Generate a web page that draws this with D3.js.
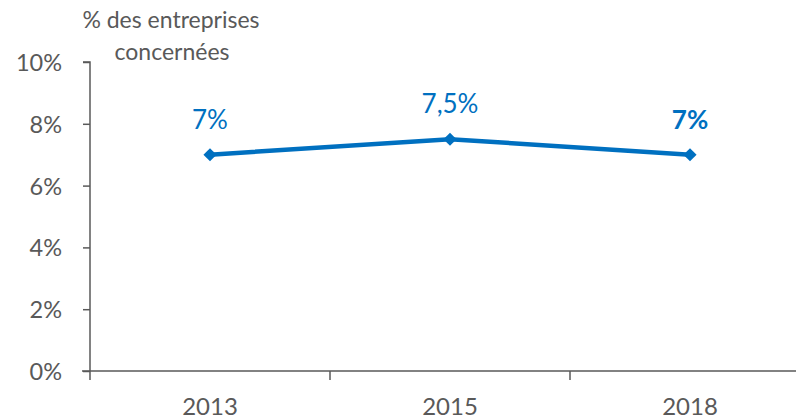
<!DOCTYPE html>
<html>
<head>
<meta charset="utf-8">
<script src="https://cdn.jsdelivr.net/npm/d3@7"></script>
<style>
  body { margin: 0; background: #fff; }
  text { font-family: Lato, "Open Sans", sans-serif; }
</style>
</head>
<body>
<svg width="796" height="420"></svg>
<script>
// data
var years = ["2013", "2015", "2018"];
var values = [7, 7.5, 7];
var valueLabels = ["7%", "7,5%", "7%"];
var boldLabel = [false, false, true];
var yTicks = [0, 2, 4, 6, 8, 10];

var svg = d3.select("svg"),
	grey = "#595959",
	blue = "#0070C0";

var x = d3.scaleBand().domain(years).range([90, 810]);
var y = d3.scaleLinear().domain([0, 10]).range([371, 62]);

// y axis
var yAxis = svg.append("g")
	.attr("transform", "translate(90,0)")
	.call(d3.axisLeft(y).tickValues(yTicks).tickSize(7).tickPadding(8)
		.tickFormat(function (d) { return d + "%"; }));
yAxis.select(".domain").attr("stroke", grey).attr("stroke-width", 1.5)
	.attr("d", "M-7," + y(10) + "H0V" + y(0));
yAxis.selectAll(".tick line").attr("stroke", grey).attr("stroke-width", 1.5);
yAxis.selectAll(".tick text").attr("fill", grey).style("font-size", "23.5px")
	.attr("x", -28).attr("dy", "0.36em");

// x axis
var xAxis = svg.append("g")
	.attr("transform", "translate(0," + y(0) + ")");
xAxis.append("line")
	.attr("x1", 82).attr("x2", 796)
	.attr("stroke", grey).attr("stroke-width", 1.5);
xAxis.selectAll("line.tk")
	.data(years.concat(["end"]))
	.enter().append("line")
	.attr("class", "tk")
	.attr("x1", function (d, i) { return 90 + i * x.bandwidth(); })
	.attr("x2", function (d, i) { return 90 + i * x.bandwidth(); })
	.attr("y1", 0).attr("y2", 9)
	.attr("stroke", grey).attr("stroke-width", 1.5);
xAxis.selectAll("text")
	.data(years)
	.enter().append("text")
	.attr("x", function (d) { return x(d) + x.bandwidth() / 2; })
	.attr("y", 44)
	.attr("text-anchor", "middle")
	.attr("fill", grey)
	.style("font-size", "24px")
	.text(function (d) { return d; });

// axis title
svg.append("text")
	.attr("x", 171).attr("y", 28)
	.attr("text-anchor", "middle")
	.attr("fill", grey)
	.style("font-size", "23px")
	.text("% des entreprises");
svg.append("text")
	.attr("x", 172).attr("y", 60)
	.attr("text-anchor", "middle")
	.attr("fill", grey)
	.style("font-size", "23px")
	.text("concernées");

// line
var pts = years.map(function (d, i) {
	return [x(d) + x.bandwidth() / 2, y(values[i])];
});
svg.append("path")
	.attr("d", d3.line()(pts))
	.attr("fill", "none")
	.attr("stroke", blue)
	.attr("stroke-width", 4.5);

svg.selectAll("path.mk")
	.data(pts)
	.enter().append("path")
	.attr("class", "mk")
	.attr("d", d3.symbol().type(d3.symbolDiamond2).size(110))
	.attr("transform", function (d) { return "translate(" + d[0] + "," + d[1] + ")"; })
	.attr("fill", blue);

svg.selectAll("text.lbl")
	.data(pts)
	.enter().append("text")
	.attr("class", "lbl")
	.attr("x", function (d) { return d[0]; })
	.attr("y", function (d) { return d[1] - 26; })
	.attr("text-anchor", "middle")
	.attr("fill", blue)
	.style("font-size", "26px")
	.style("font-weight", function (d, i) { return boldLabel[i] ? "bold" : "normal"; })
	.text(function (d, i) { return valueLabels[i]; });
</script>
</body>
</html>
